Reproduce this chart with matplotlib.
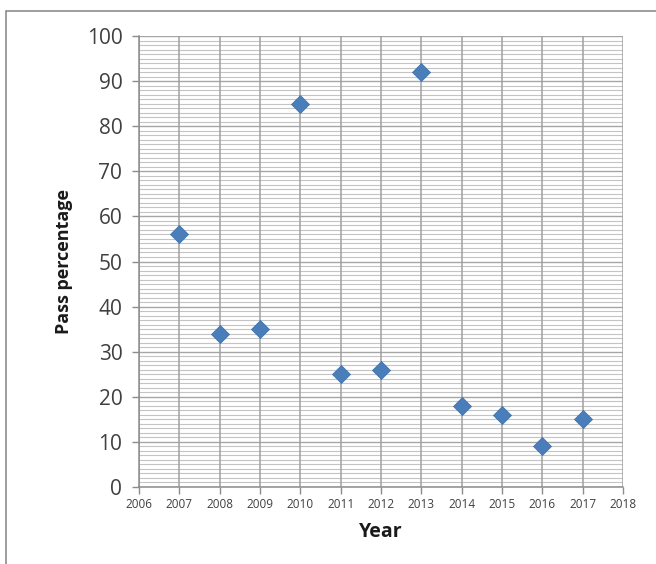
import numpy as np
import matplotlib
matplotlib.use("Agg")
import matplotlib.pyplot as plt
from matplotlib.patches import Rectangle

years = [2007, 2008, 2009, 2010, 2011, 2012, 2013, 2014, 2015, 2016, 2017]
pass_pct = [56, 34, 35, 85, 25, 26, 92, 18, 16, 9, 15]
x_ticks = list(range(2006, 2019))
y_ticks = list(range(0, 101, 10))

plt.rcParams['font.family'] = ['Open Sans', 'DejaVu Sans']

fig = plt.figure(figsize=(6.56, 5.64), dpi=100)
ax = fig.add_axes([139 / 656, 1 - 487 / 564, (623 - 139) / 656, (487 - 36) / 564])

# outer chart frame
fig.patches.append(Rectangle((6 / 656, -0.05), 1.1, 1 - 11 / 564 + 0.05,
                             transform=fig.transFigure, fill=False,
                             edgecolor='#8c8c8c', lw=1.2))

# minor horizontal gridlines every 1 unit
for v in range(0, 101):
    if v % 10:
        ax.axhline(v, color='#c4c4c4', lw=0.8, zorder=0)
for v in y_ticks:
    ax.axhline(v, color='#a6a6a6', lw=1.0, zorder=0)
for x in x_ticks:
    ax.axvline(x, color='#a0a0a0', lw=1.1, zorder=0)

ax.scatter(years, pass_pct, marker='D', s=85, color='#4a7ebb',
           edgecolors='#3f6fa8', linewidths=0.5, zorder=3)

ax.set_xlim(2006, 2018)
ax.set_ylim(0, 100)
ax.set_xticks(x_ticks)
ax.set_yticks(y_ticks)
ax.set_xticklabels([str(x) for x in x_ticks], fontsize=8.5, color='#404040')
ax.set_yticklabels([str(y) for y in y_ticks], fontsize=15, color='#404040')
ax.tick_params(axis='both', direction='out', length=5, color='#8c8c8c', width=1)
ax.tick_params(axis='y', pad=7)
ax.tick_params(axis='x', pad=3)

for s in ['top', 'right']:
    ax.spines[s].set_visible(False)
for s in ['left', 'bottom']:
    ax.spines[s].set_color('#8c8c8c')
    ax.spines[s].set_linewidth(1.1)

ax.set_xlabel('Year', fontsize=14, fontweight='bold', color='#1a1a1a', labelpad=8)
ax.set_ylabel('Pass percentage', fontsize=13, fontweight='bold', color='#1a1a1a', labelpad=10)

fig.savefig('out.png', dpi=100)
